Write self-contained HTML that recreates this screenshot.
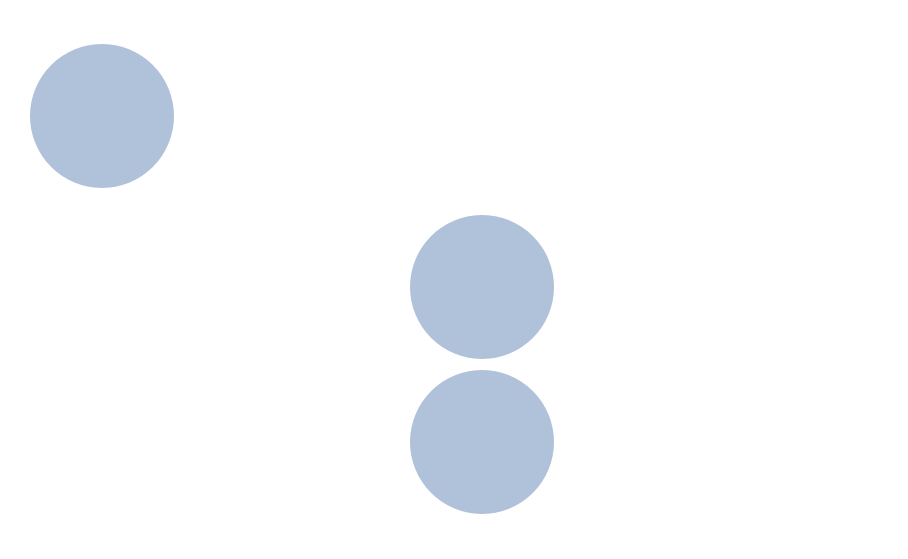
<!DOCTYPE html>
<html><head><meta charset="utf-8"><style>
html,body{margin:0;padding:0;background:#fff;width:908px;height:559px;overflow:hidden}
</style></head><body>
<svg width="908" height="559" viewBox="0 0 908 559" xmlns="http://www.w3.org/2000/svg">
<rect width="908" height="559" fill="#fff"/>
<circle cx="102" cy="116" r="72" fill="#b0c1da"/>
<circle cx="482" cy="287" r="72" fill="#b0c1da"/>
<circle cx="482" cy="442" r="72" fill="#b0c1da"/>
</svg>
</body></html>
